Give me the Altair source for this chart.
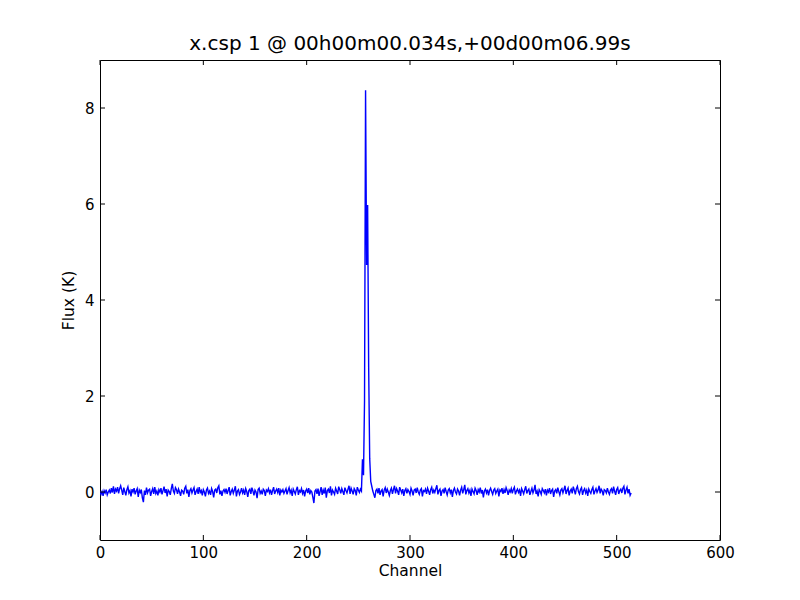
import altair as alt
import pandas as pd

# Flux per channel (K)
noise_a = [
    0.02,-0.05,0.01,-0.08,0.03,-0.02,0.05,-0.06,0.00,0.04,-0.03,0.08,-0.01,0.12,-0.04,0.06,0.02,0.10,-0.03,0.07,
    0.13,0.04,-0.06,0.09,0.01,-0.07,0.05,0.11,-0.02,0.03,-0.09,0.06,0.00,0.08,-0.05,0.02,0.07,-0.10,0.04,-0.01,
    0.05,-0.12,-0.21,0.03,-0.06,0.09,-0.02,0.04,0.06,-0.08,0.01,0.07,-0.04,0.10,-0.03,0.02,-0.07,0.05,0.00,0.08,
    -0.05,0.03,0.11,-0.02,0.06,-0.09,0.04,0.01,-0.06,0.07,0.17,0.02,-0.03,0.09,0.05,-0.04,0.06,0.00,-0.08,0.04,
    0.02,-0.05,0.08,0.12,-0.03,0.05,-0.10,0.03,0.07,-0.02,0.04,0.09,-0.06,0.01,0.06,-0.04,0.10,-0.01,0.03,-0.07,
    0.05,0.00,-0.09,0.04,0.08,-0.03,0.02,-0.06,0.07,0.01,-0.11,0.04,0.06,-0.02,0.09,0.13,-0.05,0.03,-0.08,0.02,
    0.05,-0.01,0.07,-0.04,0.03,0.10,-0.07,0.01,0.06,-0.03,0.04,0.12,-0.09,0.02,0.05,-0.05,0.00,0.08,-0.02,0.04,
    -0.06,0.07,0.01,-0.10,0.03,0.06,-0.04,0.09,0.02,-0.07,0.04,0.00,-0.13,0.05,0.08,-0.03,0.02,-0.05,0.06,0.03,
    -0.08,0.04,0.01,0.07,-0.02,0.05,-0.06,0.03,0.10,-0.04,0.02,0.06,-0.01,0.08,-0.07,0.04,0.00,0.05,-0.03,0.02,
    0.07,-0.05,0.03,0.09,-0.02,0.04,-0.08,0.06,0.01,-0.04,0.05,0.11,-0.06,0.03,0.00,0.07,-0.03,0.04,-0.09,0.02,
    0.06,-0.02,0.08,-0.05,0.03,0.00,-0.11,-0.23,0.02,0.05,-0.04,0.07,-0.08,0.01,0.10,-0.06,0.04,-0.03,0.09,-0.12,
    0.03,0.06,-0.02,0.12,-0.07,0.04,0.00,-0.05,0.08,0.02,-0.04,0.11,0.05,-0.03,0.07,0.01,-0.06,0.09,0.03,-0.02,
    0.06,0.13,-0.04,0.08,0.02,-0.05,0.07,0.03,-0.07,0.10,0.04,-0.01,0.06,0.02,
]
peak = [0.68, 0.35, 1.9, 8.37, 4.73, 5.98, 2.6, 0.7, 0.22, 0.12, 0.02]
noise_b = [
    -0.05,-0.12,0.03,0.06,-0.03,0.08,-0.06,0.02,0.05,-0.09,0.04,0.09,-0.02,0.06,0.00,-0.07,0.03,0.08,-0.04,0.05,
    0.13,-0.03,0.07,0.02,-0.06,0.10,0.04,-0.02,0.06,-0.08,0.03,0.07,-0.03,0.05,0.01,-0.05,0.08,0.02,-0.07,0.04,
    0.06,-0.02,0.09,0.00,-0.05,0.04,0.07,-0.09,0.03,0.01,0.06,-0.04,0.08,0.02,-0.06,0.05,0.10,-0.03,0.04,-0.01,
    0.07,0.14,-0.05,0.03,0.06,-0.08,0.02,0.05,-0.03,0.09,0.01,-0.06,0.04,0.07,-0.02,0.05,-0.10,0.03,0.08,0.00,
    -0.04,0.06,0.02,-0.07,0.04,0.10,-0.03,0.05,0.15,-0.05,0.03,0.07,-0.02,0.04,-0.08,0.06,0.01,-0.04,0.08,0.03,
    -0.06,0.05,0.00,0.09,-0.03,0.04,-0.11,0.02,0.06,-0.02,0.05,-0.07,0.03,0.08,0.01,-0.05,0.04,0.07,-0.03,0.02,
    0.06,-0.09,0.04,0.01,0.08,-0.04,0.05,-0.02,0.09,0.03,-0.06,0.04,0.00,0.07,-0.03,0.05,0.10,-0.05,0.02,0.06,
    -0.01,0.04,-0.08,0.07,0.02,-0.04,0.05,0.12,-0.03,0.03,0.06,-0.06,0.01,0.08,-0.02,0.04,0.15,-0.04,0.02,-0.09,
    0.05,0.01,-0.05,0.07,0.03,-0.02,0.06,-0.07,0.04,0.00,0.08,-0.04,0.03,0.06,-0.10,0.02,0.05,-0.03,0.09,0.01,
    -0.06,0.04,0.07,-0.02,0.05,0.13,-0.04,0.03,0.08,-0.07,0.02,0.06,-0.03,0.11,0.04,-0.05,0.07,0.12,0.01,-0.04,
    0.05,0.09,-0.06,0.03,0.07,-0.02,0.04,-0.08,0.06,0.01,-0.03,0.05,0.10,-0.05,0.02,0.07,-0.01,0.04,0.13,-0.03,
    0.06,0.02,-0.07,0.05,0.03,-0.02,0.08,0.00,-0.05,0.04,0.07,-0.03,0.11,0.02,-0.06,0.05,0.09,-0.04,0.03,0.06,
    -0.02,0.08,0.12,-0.05,0.04,0.10,-0.03,0.06,-0.07,-0.02,
]
flux = noise_a + peak + noise_b
channels = list(range(len(flux)))

x_ticks = [0, 100, 200, 300, 400, 500, 600]
y_ticks = [0, 2, 4, 6, 8]
x_domain = [0, 600]
y_domain = [-1, 9]

FONT = "DejaVu Sans"
W, H = 620, 480
TICK = 5

df = pd.DataFrame({"channel": channels, "flux": flux})
xt = pd.DataFrame({"channel": x_ticks})
yt = pd.DataFrame({"flux": y_ticks})

xs = alt.Scale(domain=x_domain, nice=False, zero=False)
ys = alt.Scale(domain=y_domain, nice=False, zero=False)

x_axis = alt.Axis(values=x_ticks, ticks=False, domain=False, grid=False,
                  labelFont=FONT, labelFontSize=15, labelColor="black",
                  labelPadding=5, titleFont=FONT, titleFontSize=15.5,
                  titleFontWeight="normal", titleColor="black", titlePadding=3,
                  labelFlush=False)
y_axis = alt.Axis(values=y_ticks, ticks=False, domain=False, grid=False,
                  labelFont=FONT, labelFontSize=15, labelColor="black",
                  labelPadding=6, titleFont=FONT, titleFontSize=15.5,
                  titleFontWeight="normal", titleColor="black", titlePadding=8,
                  labelFlush=False)

X = alt.X("channel:Q", scale=xs, title="Channel", axis=x_axis)
Y = alt.Y("flux:Q", scale=ys, title="Flux (K)", axis=y_axis)

line = alt.Chart(df).mark_line(color="#0000ff", strokeWidth=1.4, clip=True).encode(x=X, y=Y)

def xtick(y0, y1):
    return alt.Chart(xt).mark_rule(color="black", strokeWidth=1).encode(
        x=X, y=alt.value(y0), y2=alt.value(y1))

def ytick(x0, x1):
    return alt.Chart(yt).mark_rule(color="black", strokeWidth=1).encode(
        y=Y, x=alt.value(x0), x2=alt.value(x1))

chart = alt.layer(
    line,
    xtick(H, H - TICK), xtick(0, TICK),
    ytick(0, TICK), ytick(W, W - TICK),
).properties(
    width=W, height=H,
    title=alt.TitleParams("x.csp 1 @ 00h00m00.034s,+00d00m06.99s", font=FONT,
                          fontSize=20, fontWeight="normal", color="black", offset=6),
    autosize=alt.AutoSizeParams(type="none"),
    padding={"left": 92, "top": 52, "right": 72, "bottom": 52},
).configure(background="white").configure_view(stroke="black", strokeWidth=1)

chart.save("out.html", embed_options={"renderer": "svg", "actions": False})
